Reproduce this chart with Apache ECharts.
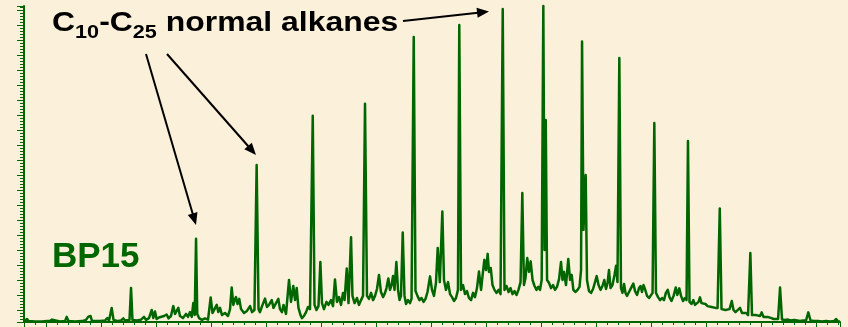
<!DOCTYPE html>
<html>
<head>
<meta charset="utf-8">
<script src="https://cdn.jsdelivr.net/npm/echarts@6/dist/echarts.min.js"></script>
<style>
  html, body { margin: 0; padding: 0; background: #FBF0DA; }
  #chart { width: 848px; height: 327px; }
</style>
</head>
<body>
<div id="chart"></div>
<script>
// Retention time (min)
const rt = [
  3.00, 3.18, 3.27, 3.41, 4.00, 4.64, 5.09, 5.23, 5.36, 5.55,
  5.73, 6.27, 6.73, 6.88, 7.05, 7.64, 8.27, 8.64, 8.85, 8.95,
  9.05, 9.18, 9.91, 10.36, 10.57, 10.73, 10.97, 11.14, 11.55, 11.82,
  12.03, 12.18, 12.59, 12.73, 12.86, 13.27, 13.64, 13.91, 14.09, 14.36,
  14.61, 14.75, 14.91, 15.06, 15.27, 15.45, 15.73, 15.97, 16.14, 16.36,
  16.57, 16.73, 16.86, 17.03, 17.18, 17.45, 17.73, 17.91, 18.09, 18.25,
  18.39, 18.52, 18.64, 18.75, 18.91, 19.18, 19.45, 19.73, 19.97, 20.14,
  20.32, 20.52, 20.66, 20.82, 21.00, 21.27, 21.55, 21.73, 21.88, 22.03,
  22.15, 22.27, 22.41, 22.57, 22.73, 23.00, 23.27, 23.55, 23.73, 23.95,
  24.15, 24.32, 24.45, 24.64, 24.91, 25.09, 25.27, 25.52, 25.68, 25.91,
  26.12, 26.27, 26.45, 26.59, 26.82, 27.09, 27.27, 27.48, 27.64, 27.79,
  27.95, 28.14, 28.27, 28.45, 28.64, 28.82, 29.00, 29.25, 29.41, 29.59,
  29.77, 29.94, 30.09, 30.27, 30.50, 30.68, 30.91, 31.09, 31.27, 31.45,
  31.64, 31.82, 32.00, 32.14, 32.34, 32.50, 32.73, 32.86, 33.05, 33.27,
  33.45, 33.64, 33.82, 34.00, 34.18, 34.36, 34.55, 34.73, 34.91, 35.09,
  35.27, 35.45, 35.64, 35.82, 35.95, 36.12, 36.27, 36.41, 36.55, 36.68,
  36.85, 37.00, 37.14, 37.27, 37.43, 37.59, 37.73, 37.91, 38.09, 38.23,
  38.43, 38.59, 38.77, 38.95, 39.14, 39.32, 39.50, 39.68, 39.91, 40.09,
  40.27, 40.45, 40.61, 40.80, 41.03, 41.18, 41.36, 41.55, 41.73, 41.91,
  42.09, 42.27, 42.45, 42.57, 42.73, 42.91, 43.09, 43.27, 43.45, 43.64,
  43.82, 44.00, 44.18, 44.36, 44.55, 44.68, 44.85, 45.00, 45.15, 45.27,
  45.43, 45.59, 45.77, 45.95, 46.14, 46.32, 46.52, 46.68, 46.86, 47.05,
  47.23, 47.41, 47.59, 47.77, 47.95, 48.14, 48.30, 48.45, 48.59, 48.75,
  48.91, 49.06, 49.23, 49.41, 49.59, 49.75, 49.91, 50.06, 50.21, 50.32,
  50.43, 50.55, 50.73, 50.91, 51.09, 51.27, 51.45, 51.64, 51.82, 51.95,
  52.09, 52.27, 52.48, 52.64, 52.79, 52.94, 53.14, 53.32, 53.50, 53.64,
  53.73, 53.86, 54.06, 54.18, 54.36, 54.55, 54.73, 54.91, 55.06, 55.23,
  55.41, 55.59, 55.75, 55.91, 56.05, 56.18, 56.32, 56.50, 56.68, 56.82,
  56.95, 57.12, 57.27, 57.41, 57.55, 57.68, 57.82, 58.00, 58.18, 58.39,
  58.55, 58.73, 58.91, 59.05, 59.18, 59.32, 59.45, 59.64, 59.82, 60.00,
  60.14, 60.30, 60.45, 60.64, 60.82, 61.00, 61.18, 61.35, 61.52, 61.68,
  61.86, 62.05, 62.25, 62.39, 62.57, 62.73, 62.91, 63.09, 63.23, 63.36,
  63.50, 63.68, 63.85, 64.00, 64.18, 64.32, 64.45, 64.59, 64.77, 64.95,
  65.14, 65.32, 65.50, 65.68, 65.86, 66.05, 66.25, 66.41, 66.59, 66.77,
  66.95, 67.14, 67.34, 67.50, 67.68, 67.86, 68.09, 68.27, 68.45, 68.64,
  68.82, 69.03, 69.18, 69.36, 69.55, 69.73, 69.91, 70.06, 70.23, 70.41,
  70.59, 70.77, 70.95, 71.14, 71.32, 71.55, 71.73, 71.91, 72.18, 72.45,
  72.73, 73.00, 73.27, 73.55, 73.82, 74.09, 74.30, 74.50, 74.82, 75.18,
  75.55, 75.91, 76.27, 76.64, 76.82, 77.00, 77.18
];

// Detector response (arbitrary units)
const signal = [
  0.2, 0.3, 1.0, 0.3, 0.2, 0.2, 0.3, 0.8, 0.3, 0.8,
  0.2, 0.2, 0.3, 1.7, 0.3, 0.2, 0.3, 0.7, 1.8, 1.2,
  2.0, 0.3, 0.3, 0.5, 1.3, 0.5, 4.7, 0.7, 0.3, 0.5,
  1.2, 0.5, 0.7, 11.3, 0.7, 0.5, 0.8, 1.7, 0.7, 1.3,
  4.0, 1.3, 3.5, 1.0, 1.5, 1.0, 2.0, 2.5, 1.2, 2.0,
  5.3, 2.7, 3.3, 4.7, 2.0, 1.3, 2.7, 1.7, 3.3, 1.7,
  6.3, 2.3, 27.7, 2.7, 1.3, 0.7, 1.2, 0.8, 8.2, 3.0,
  4.3, 5.7, 3.3, 4.7, 2.3, 3.0, 2.0, 4.3, 11.5, 5.7,
  7.3, 8.3, 6.0, 7.7, 4.3, 3.0, 3.7, 5.3, 3.3, 4.0,
  52.3, 4.3, 3.3, 5.3, 7.8, 5.0, 5.7, 7.3, 4.7, 6.3,
  7.7, 4.3, 3.3, 5.7, 2.7, 14.0, 6.7, 12.0, 7.3, 11.3,
  4.7, 2.3, 1.3, 2.0, 3.3, 5.0, 4.3, 68.7, 5.7, 4.0,
  5.3, 20.0, 6.3, 4.3, 6.7, 5.7, 7.3, 5.3, 14.2, 6.7,
  8.3, 5.7, 9.7, 7.3, 17.8, 6.3, 28.2, 8.7, 6.3, 8.0,
  5.7, 7.3, 8.7, 72.7, 8.7, 7.7, 9.7, 7.3, 8.7, 11.0,
  15.7, 10.0, 8.3, 9.7, 11.3, 14.5, 10.7, 12.3, 15.3, 10.7,
  20.0, 10.7, 7.3, 8.7, 29.8, 8.7, 6.0, 7.3, 6.3, 7.7,
  95.0, 10.3, 8.7, 7.3, 8.0, 6.7, 7.7, 10.0, 15.2, 10.7,
  8.7, 13.0, 24.7, 13.3, 36.8, 14.0, 10.7, 13.3, 9.3, 8.3,
  7.0, 8.0, 10.7, 99.0, 10.7, 12.3, 9.3, 10.3, 8.0, 7.3,
  9.7, 8.3, 11.3, 16.8, 10.7, 15.3, 20.7, 17.3, 22.7, 16.7,
  18.0, 12.3, 10.7, 9.7, 10.7, 9.3, 104.3, 10.7, 12.0, 10.0,
  11.3, 9.3, 10.3, 9.0, 10.7, 13.3, 43.0, 12.3, 14.7, 21.3,
  16.7, 20.2, 14.0, 12.0, 10.7, 11.7, 10.7, 14.0, 105.3, 24.0,
  67.3, 14.0, 13.0, 11.3, 12.3, 10.7, 11.7, 14.3, 20.0, 14.0,
  16.7, 12.3, 21.0, 14.0, 15.7, 10.7, 10.0, 10.7, 11.7, 17.3,
  93.5, 30.7, 49.0, 14.0, 10.3, 9.7, 11.0, 13.3, 15.3, 12.3,
  10.7, 12.0, 14.0, 11.0, 13.0, 17.3, 11.3, 12.3, 15.7, 18.7,
  13.3, 88.0, 11.3, 9.7, 12.7, 9.7, 8.7, 10.0, 11.3, 12.8,
  10.3, 9.0, 11.3, 12.0, 10.0, 12.3, 11.0, 8.7, 8.0, 8.3,
  9.7, 66.3, 9.7, 8.3, 7.3, 8.0, 7.3, 9.7, 10.7, 8.3,
  7.0, 8.7, 11.5, 9.0, 11.2, 8.7, 7.0, 8.0, 7.3, 60.3,
  6.7, 6.0, 7.3, 5.7, 6.3, 6.7, 8.2, 6.3, 5.7, 6.0,
  5.3, 5.7, 5.0, 5.3, 4.7, 4.7, 37.8, 4.3, 3.7, 4.0,
  3.7, 4.3, 7.0, 4.0, 3.3, 3.7, 4.7, 3.0, 2.7, 3.0,
  2.3, 23.0, 2.3, 2.0, 2.3, 1.7, 2.0, 3.2, 1.7, 1.3,
  1.7, 1.2, 1.3, 1.0, 1.2, 1.0, 11.5, 0.8, 0.7, 0.8,
  0.5, 0.7, 0.5, 0.3, 0.5, 0.5, 3.2, 0.5, 0.3, 0.3,
  0.2, 0.3, 0.2, 0.3, 1.0, 0.2, 0.2
];

const sampleName = 'BP15';
// Heading pieces: [text, isSubscript]
const headingParts = [['C', false], ['10', true], ['-C', false], ['25', true], [' normal alkanes', false]];

const timeRange = [3, 77.18];
const signalRange = [0, 105.3];
// Ruler for the left edge: same span as the signal scale, graduated one unit above its zero
const rulerRange = [1, 106.3];

const green = '#006600';
const fontFamily = '"Liberation Sans", Arial, sans-serif';

const chart = echarts.init(document.getElementById('chart'), null, { renderer: 'canvas' });

// Straight arrow with a filled triangular head ending at (x2, y2)
function arrow(x1, y1, x2, y2) {
  const dx = x2 - x1, dy = y2 - y1;
  const len = Math.hypot(dx, dy);
  const ux = dx / len, uy = dy / len;
  const hl = 12, hw = 5;
  const bx = x2 - ux * hl, by = y2 - uy * hl;
  return [
    { type: 'line', silent: true,
      shape: { x1: x1, y1: y1, x2: bx + ux, y2: by + uy },
      style: { stroke: '#000', lineWidth: 2 } },
    { type: 'polygon', silent: true,
      shape: { points: [[x2, y2], [bx - uy * hw, by + ux * hw], [bx + uy * hw, by - ux * hw]] },
      style: { fill: '#000' } }
  ];
}

// Heading with lowered, smaller subscripts laid out piece by piece
function heading(left, baseline) {
  const ctx = document.createElement('canvas').getContext('2d');
  const stretch = 1.14;
  const mainSize = 28, subSize = 19, subDrop = 6;
  const items = [];
  let x = left;
  headingParts.forEach(([txt, sub]) => {
    const size = sub ? subSize : mainSize;
    ctx.font = 'bold ' + size + 'px ' + fontFamily;
    const w = ctx.measureText(txt).width * stretch;
    const base = baseline + (sub ? subDrop : 0);
    items.push({
      type: 'text', silent: true, x: x, y: base - 0.3465 * size, scaleX: stretch,
      style: { text: txt, x: 0, y: 0, fontFamily: fontFamily, fontWeight: 'bold', fontSize: size,
               fill: '#000', verticalAlign: 'middle', align: 'left' }
    });
    x += w;
  });
  return items;
}

chart.setOption({
  animation: false,
  backgroundColor: '#FBF0DA',
  grid: { left: 24, right: 8, top: 6, bottom: 5, containLabel: false },
  xAxis: {
    type: 'value',
    min: timeRange[0], max: timeRange[1],
    splitNumber: 15,
    axisLine: { show: true, lineStyle: { color: green, width: 2 } },
    axisTick: { show: true, length: 5, lineStyle: { color: green, width: 1 } },
    minorTick: { show: true, splitNumber: 5, length: 3, lineStyle: { color: green, width: 1 } },
    axisLabel: { show: false },
    splitLine: { show: false }
  },
  yAxis: [{
    type: 'value',
    position: 'left',
    min: rulerRange[0], max: rulerRange[1],
    splitNumber: 21,
    axisLine: { show: true, lineStyle: { color: green, width: 2 } },
    axisTick: { show: true, length: 7, lineStyle: { color: green, width: 1 } },
    minorTick: { show: true, splitNumber: 5, length: 4, lineStyle: { color: green, width: 1 } },
    axisLabel: { show: false },
    splitLine: { show: false }
  }, {
    type: 'value',
    show: false,
    min: signalRange[0], max: signalRange[1],
    splitLine: { show: false }
  }],
  series: [{
    type: 'line',
    yAxisIndex: 1,
    data: rt.map((t, i) => [t, signal[i]]),
    showSymbol: false,
    clip: false,
    lineStyle: { color: green, width: 2.5, join: 'round' },
    z: 3
  }],
  graphic: heading(52, 33.3).concat([
    { type: 'text', x: 52, y: 257.5, silent: true,
      style: {
        text: sampleName,
        fontFamily: fontFamily, fontWeight: 'bold', fontSize: 35,
        fill: green, verticalAlign: 'middle'
      } }
  ]).concat(arrow(146, 54, 196, 225), arrow(167, 54, 256, 155), arrow(403, 21, 489, 11.5))
});
</script>
</body>
</html>
